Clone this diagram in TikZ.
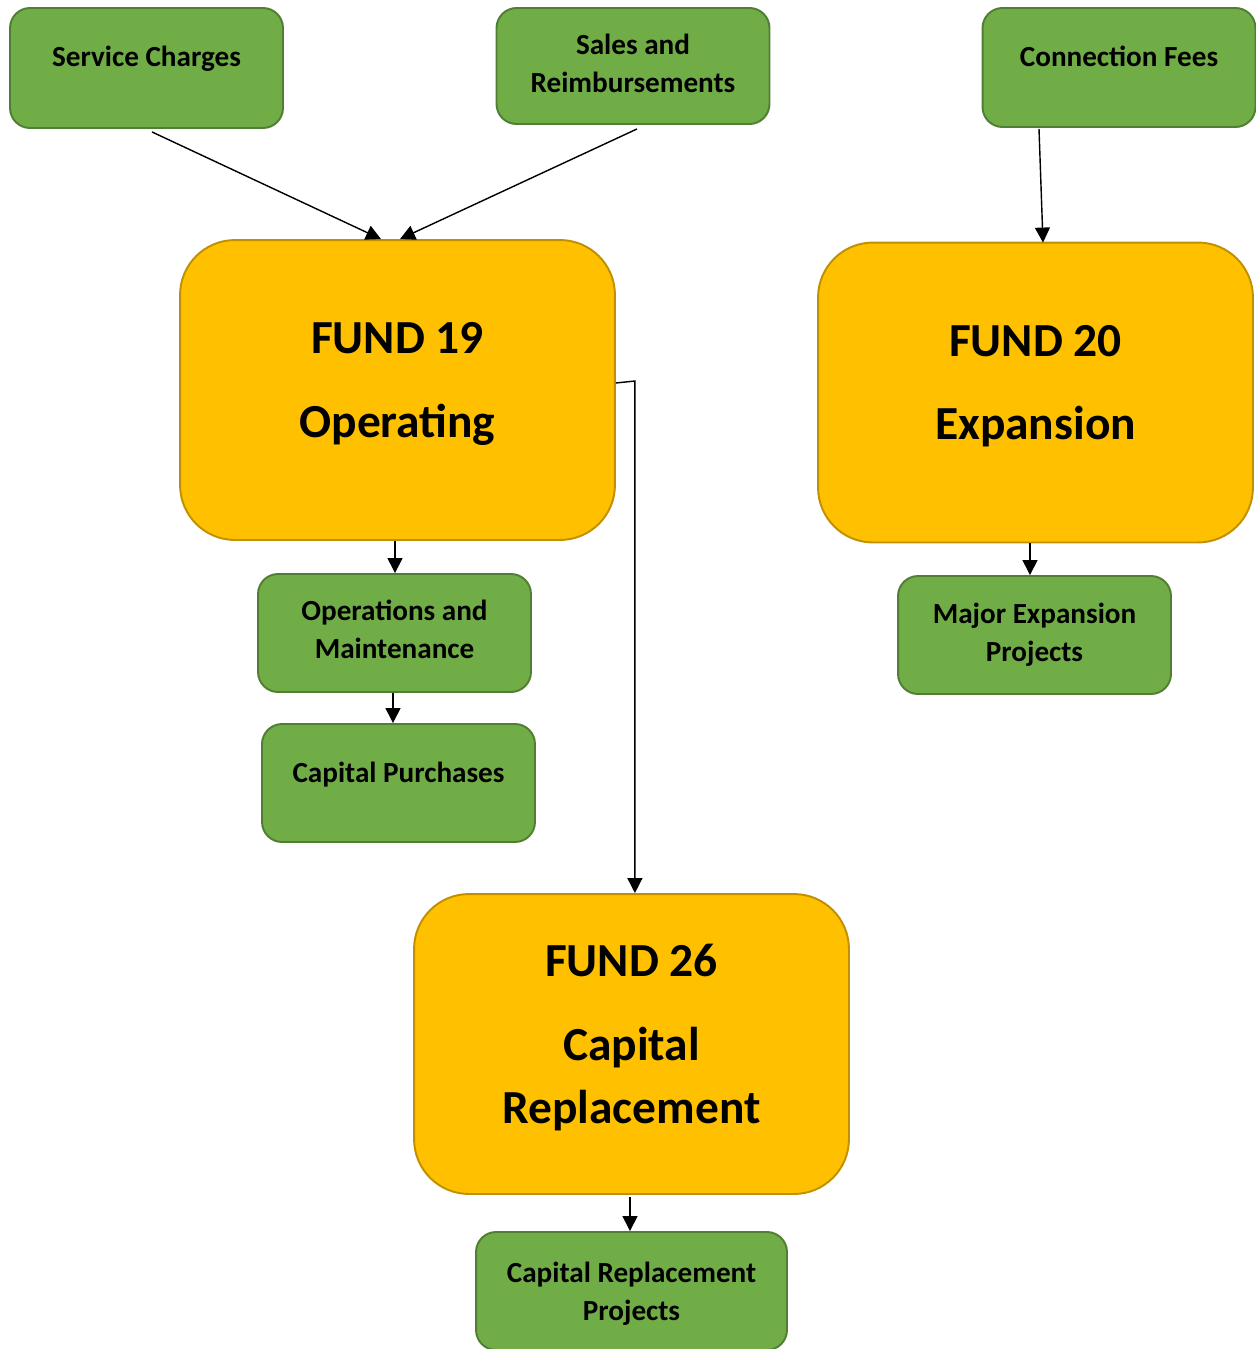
\documentclass[tikz,border=0pt]{standalone}
\usepackage{fontspec}
\setmainfont{Carlito}
\usepackage{tikz}
\usetikzlibrary{arrows.meta, calc, positioning}
\definecolor{boxgreen}{HTML}{70AD47}
\definecolor{boxgreenline}{HTML}{507E32}
\definecolor{fundgold}{HTML}{FFC000}
\definecolor{fundgoldline}{HTML}{C09000}

\begin{document}
\begin{tikzpicture}[
  x=0.02cm, y=-0.02cm,
  flowbox/.style = {draw=boxgreenline, fill=boxgreen, line width=1.1pt, rounded corners=0.4cm, minimum width=5.46cm, minimum height=2.36cm, align=center, inner sep=0pt, font=\fontsize{16.6}{21.6}\selectfont\bfseries},
  fundbox/.style = {draw=fundgoldline, fill=fundgold, line width=1.1pt, rounded corners=1.1cm, minimum width=8.7cm, minimum height=6cm, align=center, inner sep=0pt, text depth=0.4cm, font=\fontsize{27}{35.7}\selectfont\bfseries},
  arr/.style     = {-{Triangle[length=0.3cm,width=0.3cm]}, line width=0.8pt, black},
]
\useasboundingbox (0,0) rectangle (1255,1349);
% sources of money
\node[flowbox, minimum height=2.4cm, text depth=0.48cm] (charges) at (146.5,68) {Service Charges};
\node[flowbox, minimum height=2.32cm, text depth=0.12cm] (sales) at (633,66) {Sales and\\Reimbursements};
\node[flowbox, minimum height=2.38cm, text depth=0.44cm] (connfees) at (1119,67.5) {Connection Fees};
% the three funds
\node[fundbox] (fund19) at (397.5,390) {FUND 19\\[0.42cm]Operating};
\node[fundbox] (fund20) at (1035.5,392.5) {FUND 20\\[0.42cm]Expansion};
\node[fundbox] (fund26) at (631.5,1044) {FUND 26\\[0.42cm]Capital\\Replacement};
% uses
\node[flowbox, text depth=0.16cm] (opmaint) at (394.5,633) {Operations and\\Maintenance};
\node[flowbox, text depth=0.44cm] (cappurch) at (398.5,783) {Capital Purchases};
\node[flowbox] (majorexp) at (1034.5,635) {Major Expansion\\Projects};
\node[flowbox, minimum width=6.22cm, text depth=0cm] (capproj) at (631.5,1291) {Capital Replacement\\Projects};
% connectors
\draw[arr] ([shift={(5.5,3)}]charges.south) -- ([shift={(-16.5,0)}]fund19.north);
\draw[arr] ([shift={(4,4)}]sales.south) -- ([shift={(2.5,0)}]fund19.north);
\draw[arr] ([shift={(-80,1)}]connfees.south) -- ([shift={(7.5,1)}]fund20.north);
\draw[arr] ([shift={(-2.5,0)}]fund19.south) -- ([shift={(-2.5,0)}]fund19.south |- opmaint.north);
\draw[arr] ([shift={(-1.5,0)}]opmaint.south) -- ([shift={(-1.5,0)}]opmaint.south |- cappurch.north);
\draw[arr] ([shift={(0,-7)}]fund19.east) -- ++(19,-2) coordinate (turn) -- (turn |- fund26.north);
\draw[arr] ([shift={(-5.5,0)}]fund20.south) -- ([shift={(-4.5,0)}]majorexp.north);
\draw[arr] ([shift={(-1.5,2)}]fund26.south) -- ([shift={(-1.5,0)}]capproj.north);
\end{tikzpicture}
\end{document}
